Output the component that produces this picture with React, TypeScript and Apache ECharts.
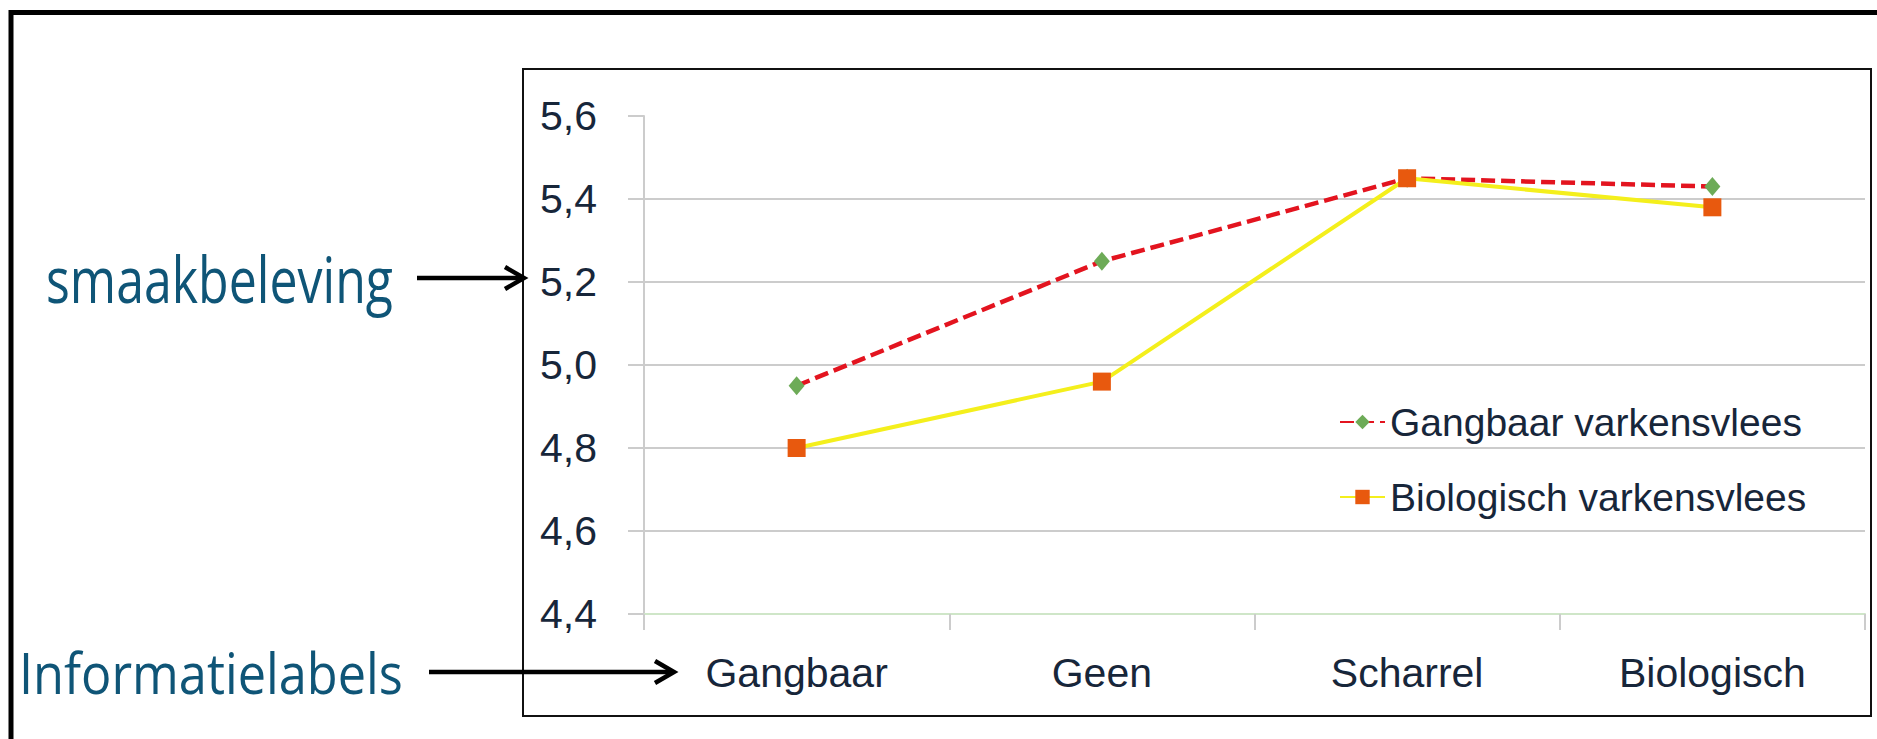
import React, { useEffect, useRef } from "react";
import * as echarts from "echarts";

// Informatielabel categories on the x axis
const categories = ["Gangbaar", "Geen", "Scharrel", "Biologisch"];
// Smaakbeleving scores per label
const gangbaarVarkensvlees = [4.95, 5.25, 5.45, 5.43];
const biologischVarkensvlees = [4.8, 4.96, 5.45, 5.38];
const seriesNames = ["Gangbaar varkensvlees", "Biologisch varkensvlees"];
// Value axis range
const yMin = 4.4;
const yMax = 5.6;
const yStep = 0.2;

const TEXT_DARK = "#17263a";
const LABEL_BLUE = "#0f5577";
const AXIS_FONT = '"Liberation Sans", Arial, sans-serif';
const NOTE_FONT = '"Open Sans", sans-serif';

function widthOf(text: string, font: string): number {
  const ctx = document.createElement("canvas").getContext("2d");
  if (!ctx) return 1;
  ctx.font = font;
  return ctx.measureText(text).width || 1;
}

// Side note: condensed text with a horizontal arrow pointing at the chart
function note(text: string, size: number, left: number, right: number, midY: number, arrowFrom: number, arrowTo: number) {
  const font = `${size}px ${NOTE_FONT}`;
  const sx = (right - left) / widthOf(text, font);
  return [
    {
      type: "text",
      x: left,
      y: midY,
      scaleX: sx,
      style: { text, font, fill: LABEL_BLUE, align: "left", verticalAlign: "middle" },
      z: 10,
    },
    {
      type: "line",
      shape: { x1: arrowFrom, y1: midY, x2: arrowTo - 2, y2: midY },
      style: { stroke: "#000", lineWidth: 4.5 },
      z: 10,
    },
    {
      type: "polyline",
      shape: { points: [[arrowTo - 19, midY - 11], [arrowTo, midY], [arrowTo - 19, midY + 11]] },
      style: { stroke: "#000", lineWidth: 4.5, fill: "none" },
      z: 10,
    },
  ];
}

export default function App() {
  const ref = useRef<HTMLDivElement>(null);

  useEffect(() => {
    if (!ref.current) return;
    const chart = echarts.init(ref.current, undefined, { renderer: "svg" });

    chart.setOption({
      animation: false,
      backgroundColor: "#ffffff",
      grid: { left: 644, right: 12, top: 116, bottom: 125, containLabel: false },
      legend: {
        orient: "vertical",
        left: 1334,
        top: 395,
        itemWidth: 45,
        itemHeight: 18,
        itemGap: 31,
        data: seriesNames,
        textStyle: { fontFamily: AXIS_FONT, fontSize: 39, color: TEXT_DARK, lineHeight: 44 },
      },
      xAxis: {
        type: "category",
        data: categories,
        boundaryGap: true,
        axisLine: { show: true, lineStyle: { color: "#cfe6c8", width: 2 } },
        axisTick: { show: true, length: 16, lineStyle: { color: "#cccccc", width: 2 } },
        axisLabel: { fontFamily: AXIS_FONT, fontSize: 41, color: TEXT_DARK, margin: 38 },
      },
      yAxis: {
        type: "value",
        min: yMin,
        max: yMax,
        interval: yStep,
        axisLine: { show: true, lineStyle: { color: "#cccccc", width: 2 } },
        axisTick: { show: true, length: 16, lineStyle: { color: "#cccccc", width: 2 } },
        splitLine: {
          show: true,
          showMinLine: false,
          showMaxLine: false,
          lineStyle: { color: "#cccccc", width: 2 },
        },
        axisLabel: {
          fontFamily: AXIS_FONT,
          fontSize: 41,
          color: TEXT_DARK,
          margin: 47,
          formatter: (v: number) => v.toFixed(1).replace(".", ","),
        },
      },
      series: [
        {
          name: seriesNames[0],
          type: "line",
          data: gangbaarVarkensvlees,
          symbol: "diamond",
          symbolSize: [16, 19],
          itemStyle: { color: "#6dab57" },
          lineStyle: { color: "#e3141f", width: 4.5, type: [14, 6] },
          z: 3,
        },
        {
          name: seriesNames[1],
          type: "line",
          data: biologischVarkensvlees,
          symbol: "rect",
          symbolSize: 18,
          itemStyle: { color: "#e8590e" },
          lineStyle: { color: "#f4ef1c", width: 4 },
          z: 4,
        },
      ],
      graphic: [
        // outer frame (runs off the right and bottom edges)
        {
          type: "rect",
          shape: { x: 11, y: 12.5, width: 2000, height: 1000 },
          style: { fill: "none", stroke: "#000", lineWidth: 5 },
          z: 0,
        },
        // chart box
        {
          type: "rect",
          shape: { x: 523, y: 69, width: 1348, height: 647 },
          style: { fill: "none", stroke: "#111", lineWidth: 2 },
          z: 0,
        },
        ...note("smaakbeleving", 64, 46, 393, 278, 417, 524),
        ...note("Informatielabels", 56, 19, 403, 672, 429, 674),
      ],
    });

    return () => chart.dispose();
  }, []);

  return (
    <div
      ref={ref}
      style={{ position: "fixed", left: 0, top: 0, width: 1877, height: 739, background: "#fff" }}
    />
  );
}
